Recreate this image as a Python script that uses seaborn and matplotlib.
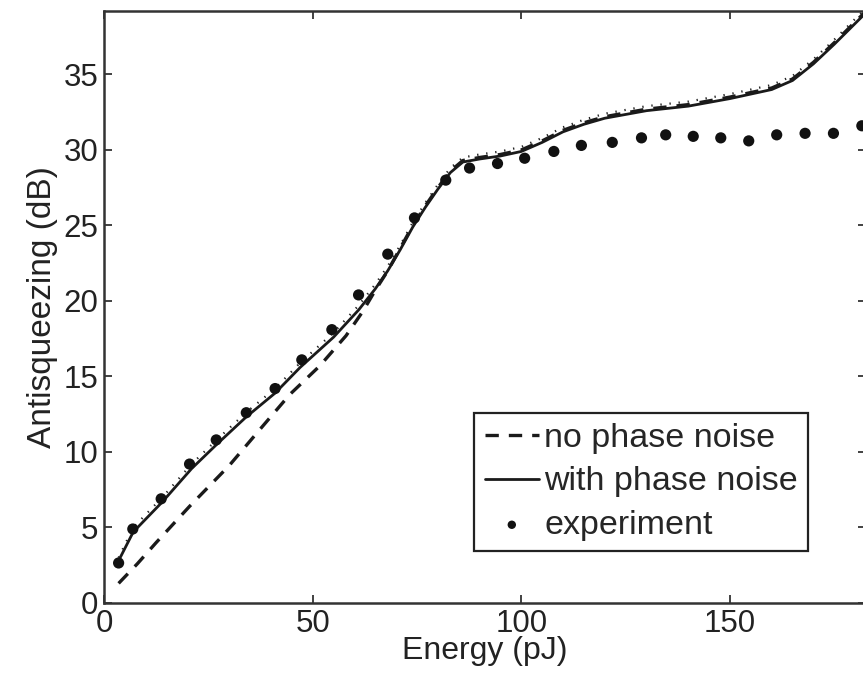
import numpy as np
import pandas as pd
import seaborn as sns
import matplotlib.pyplot as plt

# theory curves
x_theo = [3.5, 7, 14, 21, 27, 34, 41, 47, 55, 61, 65, 68, 71, 74, 77, 80, 83, 86,
          90, 95, 100, 105, 110, 115, 120, 130, 140, 150, 160, 165, 170, 175, 179, 183]
y_with = [2.8, 4.7, 6.7, 8.9, 10.5, 12.3, 13.9, 15.6, 17.6, 19.4, 20.8, 22.0, 23.4,
          24.9, 26.2, 27.4, 28.5, 29.2, 29.4, 29.6, 29.9, 30.5, 31.2, 31.7, 32.1,
          32.6, 32.9, 33.4, 34.0, 34.6, 35.7, 37.0, 38.1, 39.2]
y_dotted = [3.0, 5.0, 7.0, 9.2, 10.8, 12.6, 14.2, 15.9, 17.9, 19.7, 21.1, 22.3, 23.7,
            25.2, 26.5, 27.7, 28.8, 29.5, 29.7, 29.9, 30.2, 30.8, 31.5, 32.0, 32.4,
            32.9, 33.2, 33.7, 34.3, 34.9, 36.0, 37.3, 38.4, 39.5]

x_nopn = [3.5, 8, 12.5, 20.5, 30, 38, 44.5, 51.7, 58, 62, 65, 68, 71, 74, 77, 80,
          83, 86, 90, 95, 100, 105, 110, 115, 120, 130, 140, 150, 160, 165, 170,
          175, 179, 183]
y_nopn = [1.3, 2.6, 4.0, 6.4, 9.1, 11.7, 13.8, 15.7, 17.7, 19.3, 20.7, 22.0, 23.5,
          25.0, 26.3, 27.5, 28.6, 29.3, 29.5, 29.7, 30.0, 30.6, 31.3, 31.8, 32.2,
          32.7, 33.0, 33.5, 34.1, 34.7, 35.8, 37.1, 38.2, 39.3]

# experiment
x_exp = [3.5, 6.9, 13.7, 20.5, 26.9, 34.1, 41.0, 47.4, 54.6, 61.0, 68.0, 74.4, 81.9,
         87.6, 94.3, 100.8, 107.8, 114.4, 121.8, 128.8, 134.6, 141.2, 147.8, 154.5,
         161.2, 168.0, 174.8, 181.6]
y_exp = [2.65, 4.9, 6.9, 9.2, 10.8, 12.6, 14.2, 16.1, 18.1, 20.4, 23.1, 25.5, 28.0,
         28.8, 29.1, 29.45, 29.9, 30.3, 30.5, 30.8, 31.0, 30.9, 30.8, 30.6, 31.0,
         31.1, 31.1, 31.6]

df_with = pd.DataFrame({"x": x_theo, "y": y_with})
df_dot = pd.DataFrame({"x": x_theo, "y": y_dotted})
df_nopn = pd.DataFrame({"x": x_nopn, "y": y_nopn})
df_exp = pd.DataFrame({"x": x_exp, "y": y_exp})

sns.set_style("ticks")
plt.rcParams['font.family'] = ['Liberation Sans', 'DejaVu Sans']

fig = plt.figure(figsize=(8.63, 6.81), dpi=100)
ax = fig.add_axes([104 / 863, 1 - 603 / 681, (866 - 104) / 863, (603 - 11) / 681])

sns.lineplot(data=df_dot, x="x", y="y", ax=ax, color="#222222", lw=1.6,
             linestyle=(0, (0.6, 3.5)), sort=False, estimator=None)
sns.lineplot(data=df_nopn, x="x", y="y", ax=ax, color="#1a1a1a", lw=2.4,
             linestyle=(0, (4, 3)), sort=False, estimator=None, label="no phase noise")
sns.lineplot(data=df_with, x="x", y="y", ax=ax, color="#1a1a1a", lw=2.0,
             sort=False, estimator=None, label="with phase noise")
sns.scatterplot(data=df_exp, x="x", y="y", ax=ax, color="#111111", s=65,
                edgecolor="none", label="experiment", zorder=5)

ax.set_xlim(0, 182.6)
ax.set_ylim(0, 39.2)
ax.set_xticks([0, 50, 100, 150])
ax.set_yticks([0, 5, 10, 15, 20, 25, 30, 35])
ax.tick_params(direction="in", length=6, width=1.3, colors="#333333",
               labelsize=22.5, labelcolor="#222222", top=True, right=True, pad=4)
for sp in ax.spines.values():
    sp.set_color("#333333")
    sp.set_linewidth(1.8)

ax.set_xlabel("Energy (pJ)", fontsize=23, color="#222222", labelpad=-2)
ax.set_ylabel("Antisqueezing (dB)", fontsize=24, color="#222222", labelpad=4)

leg = ax.legend(loc="lower right", bbox_to_anchor=(0.924, 0.088), borderaxespad=0,
                fontsize=24.5, fancybox=False, frameon=True, handlelength=1.6,
                handletextpad=0.15, labelspacing=0.36, borderpad=0.3,
                markerscale=0.75)
leg.get_frame().set_edgecolor("#222222")
leg.get_frame().set_linewidth(1.6)
leg.get_frame().set_alpha(1)

fig.savefig("out.png", dpi=100)
